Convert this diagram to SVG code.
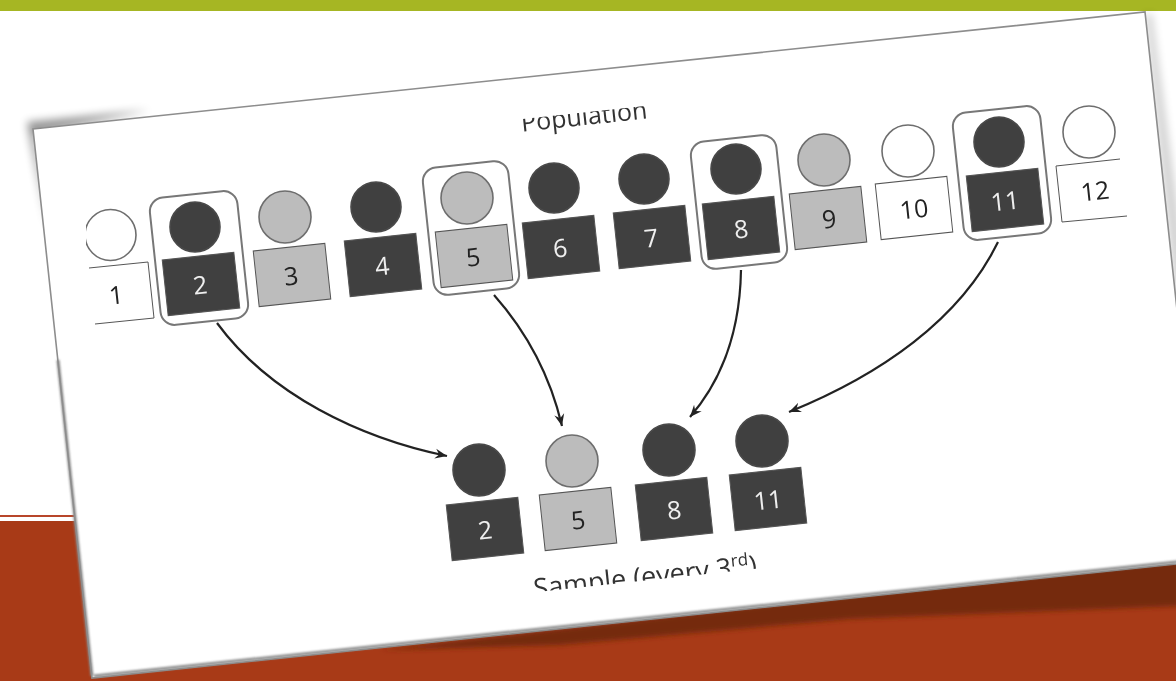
<svg xmlns="http://www.w3.org/2000/svg" width="1176" height="681" viewBox="0 0 1176 681">
<defs>
<filter id="soft" x="-20%" y="-20%" width="140%" height="140%"><feGaussianBlur stdDeviation="4"/></filter>
<filter id="band" x="-5%" y="-50%" width="110%" height="200%"><feGaussianBlur stdDeviation="2.5"/></filter>
<filter id="edge" filterUnits="userSpaceOnUse" x="0" y="0" width="1176" height="681"><feGaussianBlur stdDeviation="0.9"/></filter>
<filter id="print" filterUnits="userSpaceOnUse" x="0" y="0" width="1176" height="681"><feGaussianBlur stdDeviation="0.45"/></filter>
<marker id="ah" markerWidth="14" markerHeight="12" refX="12" refY="6" orient="auto" markerUnits="userSpaceOnUse"><path d="M0 1 L12 6 L0 11 L4 6 Z" fill="#222"/></marker>
<clipPath id="popClip"><rect x="490" y="112.5" width="190" height="40" transform="rotate(-6.1 584 112.5)"/></clipPath>
<clipPath id="sampClip"><rect x="510" y="530" width="270" height="50.5" transform="rotate(-6.1 645 580.5)"/></clipPath>
<clipPath id="c1Clip"><rect x="86" y="205" width="60" height="60"/></clipPath>
</defs>
<style>
.c{stroke-width:1.6}
.d{fill:#404040;stroke:#4a4a4a}
.g{fill:#bcbcbc;stroke:#6e6e6e}
.w{fill:#fff;stroke:#6e6e6e}
.dr{fill:#404040;stroke:#555;stroke-width:1}
.gr{fill:#bcbcbc;stroke:#555;stroke-width:1}
.wr{fill:#fff;stroke:#555;stroke-width:1}
.hl{fill:#fff;stroke:#777;stroke-width:2}
.t{font-family:"Open Sans","Liberation Sans",sans-serif;font-size:25px;text-anchor:middle;dominant-baseline:central}
.tl{fill:#efefef}
.tk{fill:#222}
.cap{font-family:"Open Sans","Liberation Sans",sans-serif;fill:#333;text-anchor:middle}
.ln{fill:none;stroke:#222;stroke-width:2.2;marker-end:url(#ah)}
</style>
<rect width="1176" height="681" fill="#fff"/>
<rect width="1176" height="11" fill="#a6b623"/>
<rect y="515" width="100" height="2" fill="#b8462a"/>
<rect y="521" width="1176" height="160" fill="#a83a17"/>
<polygon points="27,122 150,110 36,135 48,230" fill="#000" opacity=".42" filter="url(#soft)"/>
<polygon points="1145,14 1152,14 1190,300 1176,300" fill="#000" opacity=".18" filter="url(#soft)"/>
<polygon points="380,650 850,595 1180,558 1180,606 850,619 560,645" fill="#752a10" filter="url(#band)"/>
<polygon id="paper" points="33,129 1145,12 1204,561 92,678" fill="#fff"/>
<path d="M94 676 L1204 559 M92 676 L58 360" fill="none" stroke="#8a8a8a" stroke-width="3" filter="url(#edge)"/>
<polygon points="33,129 1145,12 1204,561 92,678" fill="none" stroke="#8d8d8d" stroke-width="1.6"/>

<g filter="url(#print)">
<g id="title" clip-path="url(#popClip)"><text class="cap" font-size="25" x="585" y="125" transform="rotate(-6.1 585 125)">Population</text></g>

<g id="connectors">
<path class="ln" d="M217 323 C270 395 360 438 447 456"/>
<path class="ln" d="M494 295 C525 330 550 375 562 426"/>
<path class="ln" d="M741 270 C740 330 722 380 690 417"/>
<path class="ln" d="M998 242 C960 320 880 375 789 412"/>
</g>

<g id="p1"><circle class="c w" cx="110.500" cy="235" r="25.500" clip-path="url(#c1Clip)"/><path d="M89 268 L148 262 L154 318 L95 324" fill="#fff" stroke="#555"/><text class="t tk" x="116" y="294" transform="rotate(-6.1 116 294)">1</text></g>
<g id="p2"><rect class="hl" x="155" y="194" width="88" height="128" rx="14" transform="rotate(-6.1 199 258)"/><circle class="c d" cx="195" cy="227" r="25"/><rect class="dr" x="165" y="256" width="72" height="56" transform="rotate(-6.1 201 284)"/><text class="t tl" x="200" y="284" transform="rotate(-6.1 200 284)">2</text></g>
<g id="p3"><circle class="c g" cx="285" cy="217" r="26"/><rect class="gr" x="256" y="247" width="72" height="56" transform="rotate(-6.1 292 275)"/><text class="t tk" x="291" y="275" transform="rotate(-6.1 291 275)">3</text></g>
<g id="p4"><circle class="c d" cx="376" cy="207" r="25"/><rect class="dr" x="347" y="237" width="72" height="56" transform="rotate(-6.1 383 265)"/><text class="t tl" x="382" y="265" transform="rotate(-6.1 382 265)">4</text></g>
<g id="p5"><rect class="hl" x="428" y="164" width="86" height="128" rx="14" transform="rotate(-6.1 471 228)"/><circle class="c g" cx="467" cy="198" r="26"/><rect class="gr" x="438" y="228" width="72" height="56" transform="rotate(-6.1 474 256)"/><text class="t tk" x="473" y="256" transform="rotate(-6.1 473 256)">5</text></g>
<g id="p6"><circle class="c d" cx="554" cy="188" r="25"/><rect class="dr" x="525" y="219" width="72" height="56" transform="rotate(-6.1 561 247)"/><text class="t tl" x="560" y="247" transform="rotate(-6.1 560 247)">6</text></g>
<g id="p7"><circle class="c d" cx="644" cy="179" r="25"/><rect class="dr" x="616" y="209" width="72" height="56" transform="rotate(-6.1 652 237)"/><text class="t tl" x="651" y="237" transform="rotate(-6.1 651 237)">7</text></g>
<g id="p8"><rect class="hl" x="696" y="138" width="86" height="128" rx="14" transform="rotate(-6.1 739 202)"/><circle class="c d" cx="736" cy="169" r="25"/><rect class="dr" x="705" y="200" width="72" height="56" transform="rotate(-6.1 741 228)"/><text class="t tl" x="741" y="228" transform="rotate(-6.1 741 228)">8</text></g>
<g id="p9"><circle class="c g" cx="824" cy="160" r="26"/><rect class="gr" x="792" y="190" width="72" height="56" transform="rotate(-6.1 828 218)"/><text class="t tk" x="829" y="218" transform="rotate(-6.1 829 218)">9</text></g>
<g id="p10"><circle class="c w" cx="908" cy="151" r="26"/><rect class="wr" x="878" y="180" width="72" height="56" transform="rotate(-6.1 914 208)"/><text class="t tk" x="914" y="208" transform="rotate(-6.1 914 208)">10</text></g>
<g id="p11"><rect class="hl" x="958" y="109" width="88" height="128" rx="14" transform="rotate(-6.1 1002 173)"/><circle class="c d" cx="999" cy="142" r="25"/><rect class="dr" x="969" y="172" width="72" height="56" transform="rotate(-6.1 1005 200)"/><text class="t tl" x="1005" y="200" transform="rotate(-6.1 1005 200)">11</text></g>
<g id="p12"><circle class="c w" cx="1089" cy="132" r="26"/><path d="M1120 159 L1056 166 L1062 222 L1127 216" fill="#fff" stroke="#555"/><text class="t tk" x="1095" y="190" transform="rotate(-6.1 1095 190)">12</text></g>

<g id="s2"><circle class="c d" cx="479" cy="470" r="26"/><rect class="dr" x="449" y="501" width="72" height="56" transform="rotate(-6.1 485 529)"/><text class="t tl" x="485" y="529" transform="rotate(-6.1 485 529)">2</text></g>
<g id="s5"><circle class="c g" cx="572" cy="461" r="26"/><rect class="gr" x="542" y="491" width="72" height="56" transform="rotate(-6.1 578 519)"/><text class="t tk" x="578" y="519" transform="rotate(-6.1 578 519)">5</text></g>
<g id="s8"><circle class="c d" cx="669" cy="450" r="26"/><rect class="dr" x="638" y="481" width="72" height="56" transform="rotate(-6.1 674 509)"/><text class="t tl" x="674" y="509" transform="rotate(-6.1 674 509)">8</text></g>
<g id="s11"><circle class="c d" cx="762" cy="441" r="26"/><rect class="dr" x="732" y="471" width="72" height="56" transform="rotate(-6.1 768 499)"/><text class="t tl" x="768" y="499" transform="rotate(-6.1 768 499)">11</text></g>

<g id="caption" clip-path="url(#sampClip)"><text class="cap" font-size="27" x="646" y="586" transform="rotate(-6.1 646 586)">Sample (every 3<tspan font-size="17" dy="-10">rd</tspan><tspan dy="10">)</tspan></text></g>
</g>
</svg>
